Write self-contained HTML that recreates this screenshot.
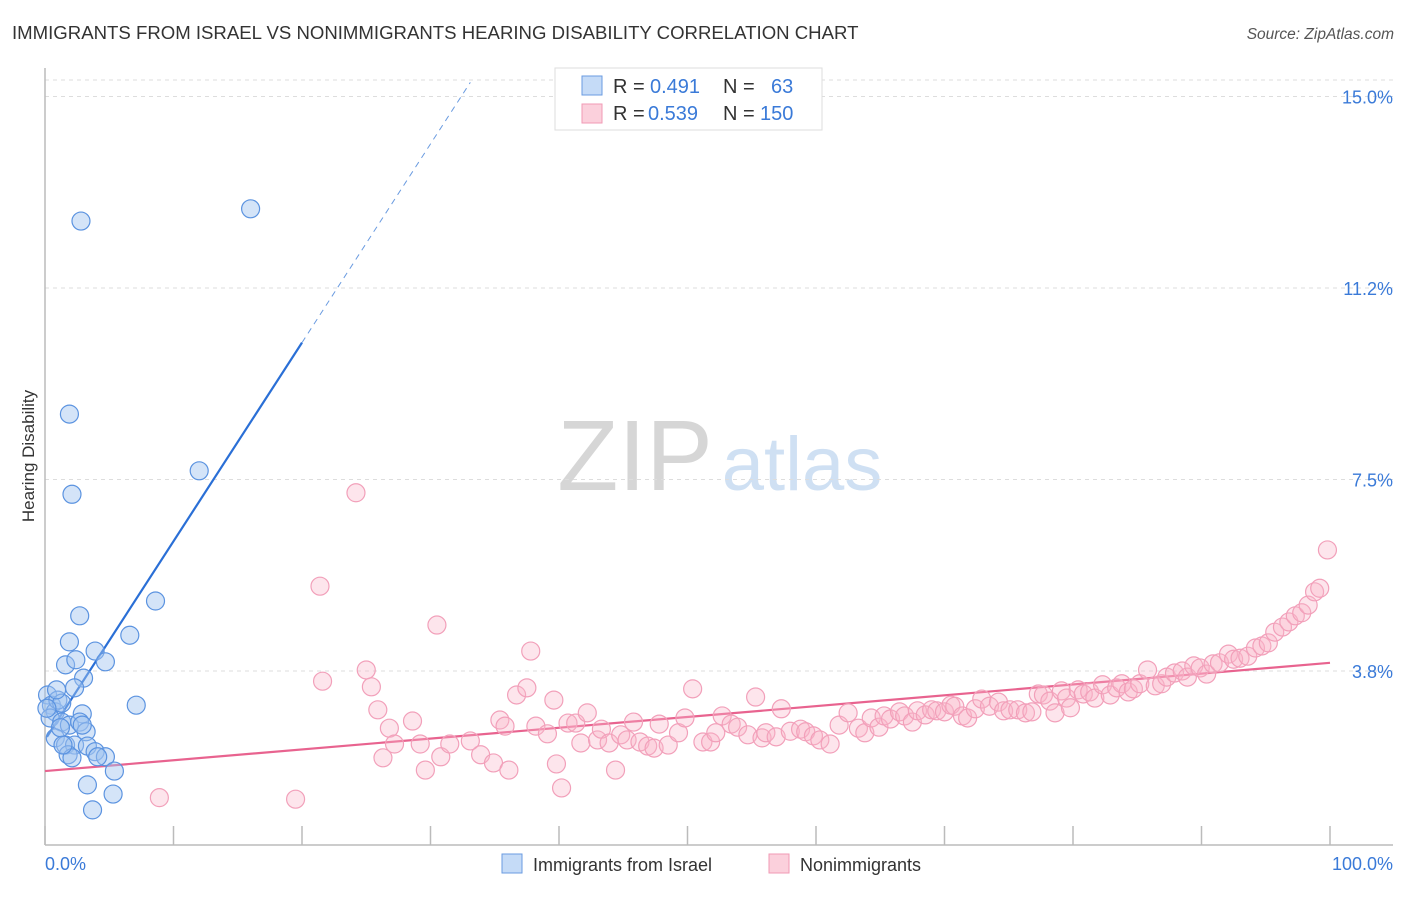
<!DOCTYPE html>
<html><head><meta charset="utf-8"><style>
body{margin:0;background:#fff;font-family:"Liberation Sans",sans-serif}
svg text{font-family:"Liberation Sans",sans-serif}
</style></head><body>
<svg id="c" width="1406" height="892" viewBox="0 0 1406 892" xmlns="http://www.w3.org/2000/svg">
<text x="12" y="39" font-size="18.6" fill="#333">IMMIGRANTS FROM ISRAEL VS NONIMMIGRANTS HEARING DISABILITY CORRELATION CHART</text>
<text x="1394" y="39" font-size="15.5" fill="#555" font-style="italic" text-anchor="end">Source: ZipAtlas.com</text>
<text x="34" y="456" font-size="17" fill="#333" text-anchor="middle" transform="rotate(-90 34 456)">Hearing Disability</text>
<g><text x="635" y="490" font-size="100" fill="#d6d6d6" font-family="Liberation Serif" text-anchor="middle">ZIP</text><text x="802" y="490" font-size="76" fill="#cfe0f3" text-anchor="middle">atlas</text></g>
<g id="grid"></g><g id="axes"></g><g id="lines"></g><g id="pts"></g>
<g>
<rect x="555" y="68" width="267" height="62" fill="#fff" stroke="#ddd"/>
<rect x="582" y="76" width="20" height="19" fill="#c5dbf7" stroke="#6a9be0"/>
<rect x="582" y="104" width="20" height="19" fill="#fbd0dc" stroke="#f09ab5"/>
<text x="613" y="93" font-size="20" fill="#333">R =</text><text x="650" y="93" font-size="20" fill="#3a7ad8">0.491</text>
<text x="723" y="93" font-size="20" fill="#333">N =</text><text x="771" y="93" font-size="20" fill="#3a7ad8">63</text>
<text x="613" y="120" font-size="20" fill="#333">R =</text><text x="648" y="120" font-size="20" fill="#3a7ad8">0.539</text>
<text x="723" y="120" font-size="20" fill="#333">N =</text><text x="760" y="120" font-size="20" fill="#3a7ad8">150</text>
</g>
<g>
<rect x="502" y="854" width="20" height="19" fill="#c5dbf7" stroke="#6a9be0"/>
<text x="533" y="871" font-size="18" fill="#333">Immigrants from Israel</text>
<rect x="769" y="854" width="20" height="19" fill="#fbd0dc" stroke="#f09ab5"/>
<text x="800" y="871" font-size="18" fill="#333">Nonimmigrants</text>
</g>
</svg>
<script>
const yTicks=[15.0,11.25,7.5,3.75];
const yTickLabels=["15.0%","11.2%","7.5%","3.8%"];
const xTicks=[0,10,20,30,40,50,60,70,80,90,100];
const blueX=[2.8,16.0,1.9,2.1,12.0,8.6,2.7,1.9,6.6,3.9,1.6,4.7,2.4,3.0,7.1,2.3,0.2,0.5,0.8,1.0,0.4,1.3,0.9,0.15,2.9,1.3,1.9,2.7,3.2,0.8,1.6,2.3,3.3,3.9,1.8,4.7,2.1,4.1,5.4,3.3,5.3,3.7,2.9,1.4,1.2];
const blueY=[12.56,12.80,8.78,7.21,7.67,5.12,4.83,4.32,4.45,4.14,3.87,3.93,3.97,3.61,3.08,3.42,3.28,3.08,2.95,3.18,2.83,3.12,3.38,3.02,2.91,2.75,2.69,2.75,2.56,2.44,2.30,2.30,2.28,2.17,2.11,2.07,2.05,2.07,1.79,1.52,1.34,1.03,2.69,2.30,2.64];
const pinkX=[8.9,19.5,24.2,21.4,21.6,25.0,25.4,25.9,26.8,26.3,27.2,28.6,29.2,29.6,30.5,30.8,31.5,33.1,33.9,34.9,35.4,35.8,36.1,36.7,37.5,37.8,38.2,39.1,39.6,39.8,40.2,40.7,41.3,41.7,42.2,43.0,43.3,43.9,44.4,44.8,45.3,45.8,46.3,46.9,47.4,47.8,48.5,49.3,49.8,50.4,51.2,51.8,52.2,52.7,53.4,53.9,54.7,55.3,55.8,56.1,56.9,57.3,58.0,58.8,59.2,59.8,60.3,61.1,61.8,62.5,63.3,63.8,64.3,64.9,65.3,65.8,66.5,66.9,67.5,67.9,68.5,69.0,69.4,70.0,70.5,70.8,71.4,71.8,72.4,72.9,73.5,74.2,74.6,75.1,75.7,76.3,76.8,77.3,77.7,78.2,78.6,79.1,79.5,79.8,80.4,80.8,81.3,81.7,82.3,82.9,83.4,83.8,84.3,84.7,85.2,85.8,86.4,86.9,87.3,87.9,88.5,88.9,89.4,89.9,90.4,90.9,91.4,92.1,92.5,93.0,93.6,94.2,94.7,95.2,95.7,96.3,96.8,97.3,97.8,98.3,98.8,99.2,99.8];
const pinkY=[1.27,1.24,7.24,5.41,3.55,3.77,3.44,2.99,2.63,2.05,2.32,2.77,2.32,1.81,4.65,2.07,2.32,2.38,2.11,1.95,2.79,2.67,1.81,3.28,3.42,4.14,2.67,2.52,3.18,1.93,1.46,2.73,2.73,2.34,2.93,2.40,2.61,2.34,1.81,2.50,2.40,2.75,2.36,2.28,2.24,2.71,2.30,2.54,2.83,3.40,2.36,2.36,2.54,2.87,2.71,2.65,2.50,3.24,2.44,2.54,2.46,3.01,2.57,2.61,2.56,2.48,2.40,2.32,2.69,2.93,2.63,2.54,2.83,2.65,2.87,2.81,2.95,2.87,2.75,2.97,2.89,2.99,2.97,2.95,3.08,3.06,2.87,2.83,3.01,3.20,3.06,3.14,2.97,2.99,2.99,2.93,2.95,3.30,3.28,3.16,2.93,3.36,3.22,3.03,3.38,3.30,3.34,3.22,3.48,3.28,3.42,3.50,3.34,3.40,3.50,3.77,3.46,3.50,3.63,3.71,3.75,3.63,3.85,3.81,3.69,3.89,3.91,4.08,3.98,4.00,4.04,4.20,4.24,4.30,4.51,4.61,4.71,4.83,4.89,5.04,5.30,5.37,6.12];
const blueFit=[2.40,0.389];const blueSolidEnd=20;const blueDashEnd=33.1;
const pinkFit=[1.79,0.0212];
const NS="http://www.w3.org/2000/svg";
const X=v=>45+v*12.85, Y=v=>862.5-v*51.07;
function mk(t,a,p){const e=document.createElementNS(NS,t);for(const k in a)e.setAttribute(k,a[k]);document.getElementById(p).appendChild(e);return e;}
yTicks.forEach((t,i)=>{
 const l=mk('line',{x1:45,x2:1393,y1:Y(t),y2:Y(t),stroke:'#ddd','stroke-dasharray':'4 4'},'grid');
 
 
 const tx=mk('text',{x:1393,y:Y(t)+7,'font-size':18,fill:'#3a7ad8','text-anchor':'end'},'axes');tx.textContent=yTickLabels[i];
 
 
});
const tl=mk('line',{x1:45,x2:1393,y1:80,y2:80,stroke:'#ddd','stroke-dasharray':'4 4'},'grid');


const ya=mk('line',{x1:45,x2:45,y1:68,y2:845,stroke:'#bbb','stroke-width':1.5},'axes');


const xa=mk('line',{x1:45,x2:1393,y1:845,y2:845,stroke:'#bbb','stroke-width':1.5},'axes');


xTicks.forEach(t=>{const k=mk('line',{x1:X(t),x2:X(t),y1:826,y2:845,stroke:'#bbb','stroke-width':1.5},'axes');
 
 });
const x0=mk('text',{x:45,y:870,'font-size':18,fill:'#3a7ad8'},'axes');x0.textContent='0.0%';


const x1=mk('text',{x:1393,y:870,'font-size':18,fill:'#3a7ad8','text-anchor':'end'},'axes');x1.textContent='100.0%';


pinkX.forEach((v,i)=>{const c=mk('circle',{cx:X(v),cy:Y(pinkY[i]),r:9,fill:'rgba(248,180,200,0.35)',stroke:'#f2a0ba','stroke-width':1.2},'pts');
 
 });
blueX.forEach((v,i)=>{const c=mk('circle',{cx:X(v),cy:Y(blueY[i]),r:9,fill:'rgba(160,196,240,0.45)',stroke:'#5b93e0','stroke-width':1.2},'pts');
 
 });
const bf=x=>blueFit[0]+blueFit[1]*x, pf=x=>pinkFit[0]+pinkFit[1]*x;
const b1=mk('line',{x1:X(0.15),y1:Y(bf(0.15)),x2:X(blueSolidEnd),y2:Y(bf(blueSolidEnd)),stroke:'#2a6fd6','stroke-width':2.2},'lines');


const b2=mk('line',{x1:X(blueSolidEnd),y1:Y(bf(blueSolidEnd)),x2:X(blueDashEnd),y2:Y(bf(blueDashEnd)),stroke:'#6a9be0','stroke-width':1,'stroke-dasharray':'6 5'},'lines');


const p1=mk('line',{x1:X(0),y1:Y(pf(0)),x2:X(100),y2:Y(pf(100)),stroke:'#e8638f','stroke-width':2.2},'lines');


</script>
</body></html>
